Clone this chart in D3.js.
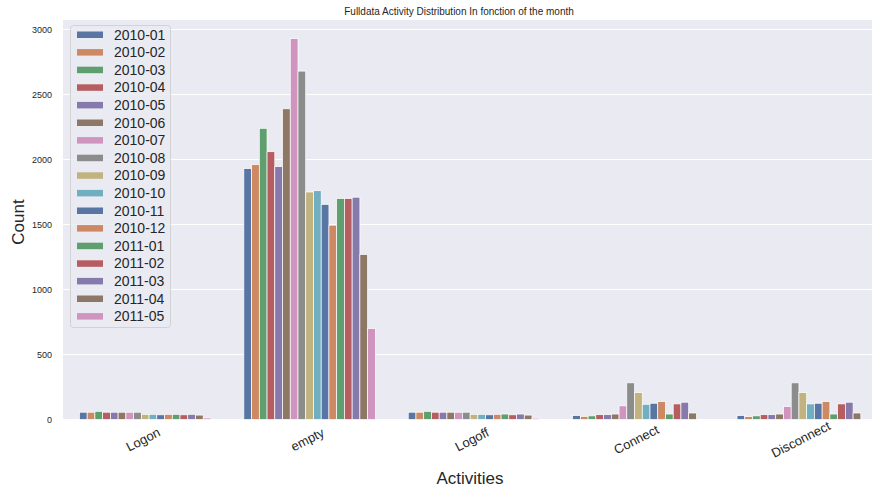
<!DOCTYPE html>
<html><head><meta charset="utf-8">
<script src="https://cdn.jsdelivr.net/npm/d3@7"></script>
<style>body{margin:0;background:#fff}svg{display:block;font-family:"Liberation Sans",Arial,sans-serif}</style>
</head><body><svg id="c" width="872" height="489"></svg>
<script>
const activities = ["Logon","empty","Logoff","Connect","Disconnect"];
const months = ["2010-01","2010-02","2010-03","2010-04","2010-05","2010-06","2010-07","2010-08","2010-09","2010-10","2010-11","2010-12","2011-01","2011-02","2011-03","2011-04","2011-05"];
const logonVals      = [56,56,63,56,56,56,56,56,40,40,36,40,40,36,40,34,12];
const emptyVals      = [1930,1960,2240,2060,1945,2390,2930,2680,1750,1760,1655,1495,1700,1700,1710,1270,700];
const logoffVals     = [56,56,63,56,56,56,56,56,40,40,36,40,42,36,42,34,10];
const connectVals    = [30,24,28,37,37,42,105,282,207,117,125,138,42,120,133,50,null];
const disconnectVals = [30,22,28,37,37,42,100,282,207,120,125,138,42,120,133,50,null];
const yTicks = [0,500,1000,1500,2000,2500,3000];
const palette = ["#5975a4","#cc8963","#5f9e6e","#b55d60","#857aab","#8d7866","#d095bf","#8c8c8c","#c1b37f","#71aec0"];

const series = [logonVals, emptyVals, logoffVals, connectVals, disconnectVals];
const data = [];
activities.forEach((a,i)=>months.forEach((m,j)=>{ if(series[i][j]!=null) data.push({a, m, v: series[i][j]}); }));

const svg = d3.select("#c");
const L = 63, R = 885, T = 20, B = 419.5;
const x = d3.scaleBand().domain(activities).range([L,R]).paddingInner(0.2).paddingOuter(0.1);
const xs = d3.scaleBand().domain(months).range([0, x.bandwidth()]);
const y = d3.scaleLinear().domain([0, 3000]).range([B, B - 390]);
const color = d3.scaleOrdinal().domain(months).range(months.map((m,i)=>palette[i%10]));

svg.append("rect").attr("x",L).attr("y",T).attr("width",R-L).attr("height",B-T+0.5).attr("fill","#eaeaf2");
svg.append("g").selectAll("line").data(yTicks).join("line")
  .attr("x1",L).attr("x2",R).attr("y1",d=>y(d)).attr("y2",d=>y(d))
  .attr("stroke","#fff").attr("stroke-width",1);

svg.append("g").selectAll("rect").data(data).join("rect")
  .attr("x",d=>x(d.a)+xs(d.m)).attr("width",xs.bandwidth())
  .attr("y",d=>y(d.v)).attr("height",d=>B-y(d.v))
  .attr("fill",d=>color(d.m)).attr("stroke","#fff").attr("stroke-width",0.7);

const yAxis = svg.append("g").attr("transform",`translate(${L},0)`)
  .call(d3.axisLeft(y).tickValues(yTicks).tickFormat(d3.format("d")).tickSize(0).tickPadding(11));
yAxis.select(".domain").remove();
yAxis.selectAll("text").attr("font-size",9).attr("fill","#262626").attr("font-family","Liberation Sans, Arial, sans-serif");

const xAxis = svg.append("g").attr("transform",`translate(0,${B})`)
  .call(d3.axisBottom(x).tickSize(0).tickPadding(0));
xAxis.select(".domain").remove();
xAxis.selectAll("text").attr("font-size",13).attr("fill","#262626")
  .attr("font-family","Liberation Sans, Arial, sans-serif")
  .attr("text-anchor","middle").attr("dy",0)
  .attr("transform","translate(0,24) rotate(-27)");

svg.append("text").attr("x",(L+R)/2-4).attr("y",484).attr("text-anchor","middle")
  .attr("font-size",17).attr("fill","#262626").text("Activities");
svg.append("text").attr("transform","translate(24,222) rotate(-90)").attr("text-anchor","middle")
  .attr("font-size",17).attr("fill","#262626").text("Count");
svg.append("text").attr("x",459).attr("y",15).attr("text-anchor","middle")
  .attr("font-size",10).attr("fill","#262626").text("Fulldata Activity Distribution In fonction of the month");

const lg = svg.append("g");
lg.append("rect").attr("x",70.5).attr("y",25.5).attr("width",100).attr("height",302).attr("rx",3)
  .attr("fill","#eaeaf2").attr("fill-opacity",0.8).attr("stroke","#cccccc").attr("stroke-width",0.8);
const items = lg.selectAll("g").data(months).join("g")
  .attr("transform",(d,i)=>`translate(0,${34.5+i*17.6})`);
items.append("rect").attr("x",77).attr("y",-3).attr("width",26).attr("height",6.5).attr("fill",d=>color(d));
items.append("text").attr("x",114).attr("y",5).attr("font-size",14).attr("fill","#262626").text(d=>d);
</script></body></html>
